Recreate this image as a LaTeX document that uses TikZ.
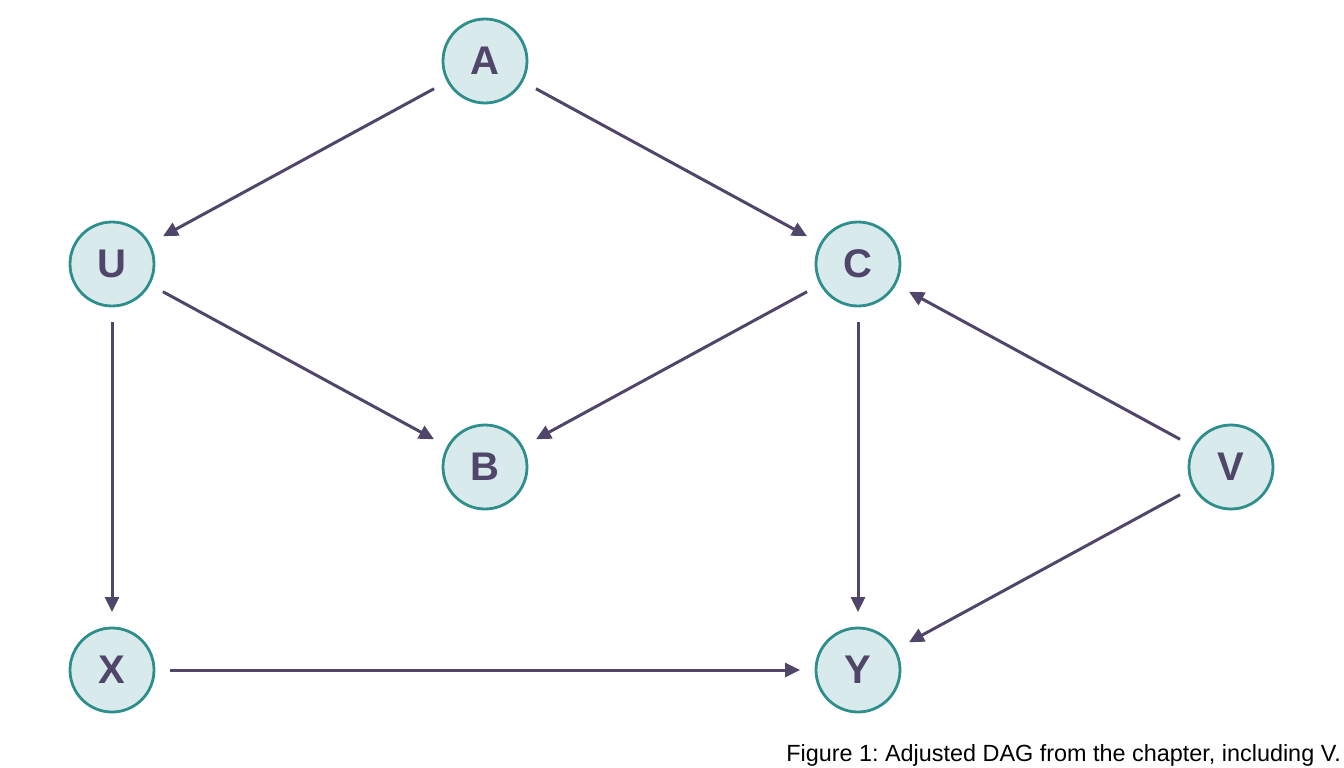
\documentclass[tikz,border=0pt]{standalone}
\usepackage{fontspec}
\setmainfont{Liberation Sans}
\usetikzlibrary{arrows.meta}
\definecolor{nodefill}{HTML}{D9EAEC}
\definecolor{nodeedge}{HTML}{2E8E8C}
\definecolor{ink}{HTML}{50466A}
\tikzset{
  dagnode/.style={circle, draw=nodeedge, line width=2.8pt, fill=nodefill,
    minimum size=84pt, inner sep=0pt, outer sep=16pt, text=ink,
    font=\fontsize{40}{40}\selectfont\bfseries},
  dagedge/.style={draw=ink, line width=3pt, -{Triangle[length=15pt,width=14pt]}},
}
\begin{document}
\frenchspacing
\begin{tikzpicture}[x=1pt,y=-1pt]
\useasboundingbox (0,0) rectangle (1344,768);
\node[dagnode] (A) at (485,61) {A};
\node[dagnode] (U) at (112,264) {U};
\node[dagnode] (C) at (858,264) {C};
\node[dagnode] (B) at (485,467) {B};
\node[dagnode] (V) at (1231,467) {V};
\node[dagnode] (X) at (112,670) {X};
\node[dagnode] (Y) at (858,670) {Y};
\draw[dagedge] (A) -- (U);
\draw[dagedge] (A) -- (C);
\draw[dagedge] (U) -- (B);
\draw[dagedge] (C) -- (B);
\draw[dagedge] (U) -- (X);
\draw[dagedge] (C) -- (Y);
\draw[dagedge] (V) -- (C);
\draw[dagedge] (V) -- (Y);
\draw[dagedge] (X) -- (Y);
\node[anchor=base east, inner sep=0pt, font=\fontsize{23.4}{24}\selectfont] (cap) at (1341,761) {Figure 1: Adjusted DAG from the chapter, including V.};
\end{tikzpicture}
\end{document}
